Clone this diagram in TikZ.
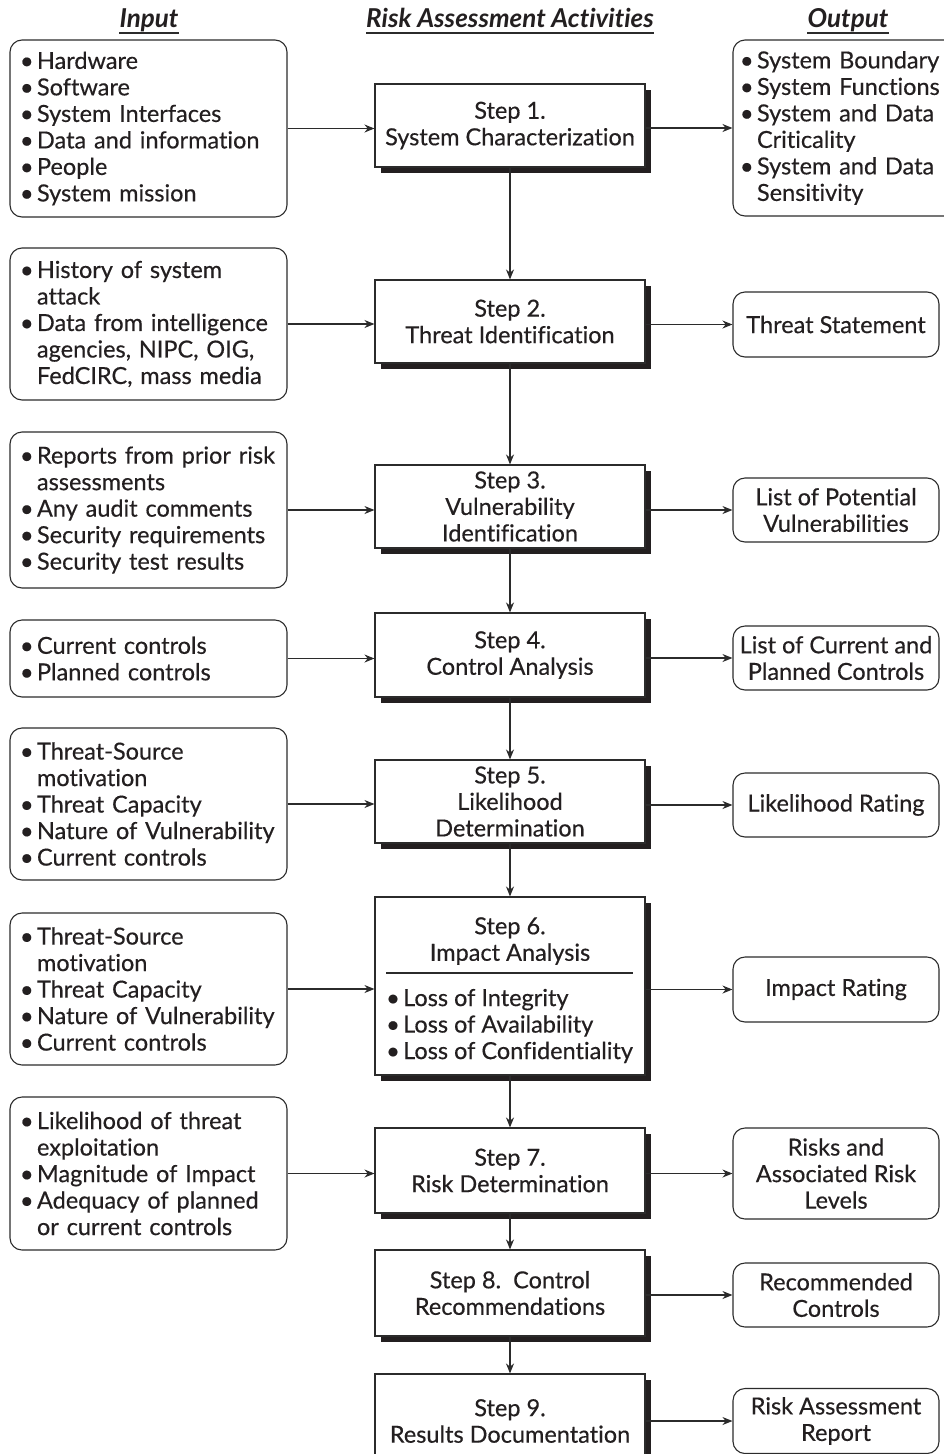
\documentclass[tikz,border=0pt]{standalone}
\usepackage{fontspec}
\setmainfont{Lato}[Ligatures=NoCommon, FakeBold=0.4]
\newfontfamily\hdfont{Lato}[Ligatures=NoCommon]
\usetikzlibrary{arrows.meta,shadows}
\definecolor{ink}{HTML}{231F20}
\definecolor{rulec}{HTML}{2B2B2B}
% bullet with a fixed-width slot, and the matching hanging indent
\newcommand\bl[1][17pt]{\makebox[#1][l]{•}}
\newcommand\hang[1][17pt]{\hspace*{#1}}

\begin{document}
\begin{tikzpicture}[x=1pt,y=-1pt,
  every node/.style={text=ink, font=\fontsize{23.5}{26.5}\selectfont},
  hd/.style={font=\hdfont\bfseries\itshape\fontsize{26}{30}\selectfont, inner sep=0pt, anchor=base},
  inbox/.style={draw=rulec, line width=1.1pt, rounded corners=12pt, text width=257pt,
                inner xsep=10pt, inner ysep=0pt, align=left},
  outbox/.style={draw=rulec, line width=1.1pt, rounded corners=12pt, minimum width=206pt,
                 inner sep=0pt, align=center},
  stepbox/.style={draw=rulec, line width=1.1pt, fill=white, minimum width=270pt,
                  inner sep=0pt, align=center,
                  drop shadow={shadow xshift=6pt, shadow yshift=-6pt, fill=ink, opacity=1}},
  flow/.style={draw=rulec, line width=1.1pt, -{Stealth[length=10pt,width=8pt]}}
]
\useasboundingbox (0,0) rectangle (944,1454);

% column headings
\node[hd] (hIn)  at (149,27) {Input};
\node[hd] (hAct) at (510,27) {Risk Assessment Activities};
\node[hd] (hOut) at (848,27) {Output};
\foreach \h in {hIn,hAct,hOut}
  \draw[rulec, line width=1.5pt] ([yshift=-6pt]\h.base west) -- ([yshift=-6pt]\h.base east);

% steps
\node[stepbox, minimum height=83pt] (s1) at (510,125.5) {Step 1.\\System Characterization};
\node[stepbox, minimum height=83pt] (s2) at (510,321.5) {Step 2.\\Threat Identification};
\node[stepbox, minimum height=83pt] (s3) at (510,506.5) {Step 3.\\Vulnerability\\Identification};
\node[stepbox, minimum height=84pt] (s4) at (510,655) {Step 4.\\Control Analysis};
\node[stepbox, minimum height=83pt] (s5) at (510,801.5) {Step 5.\\Likelihood\\Determination};
\node[stepbox, minimum height=178pt] (s6) at (510,986) {};
\node[stepbox, minimum height=85pt] (s7) at (510,1170.5) {Step 7.\\Risk Determination};
\node[stepbox, minimum height=86pt] (s8) at (510,1293) {Step 8.\ \ Control\\Recommendations};
\node[stepbox, minimum height=94pt] (s9) at (510,1421) {Step 9.\\Results Documentation};

% inside of step 6
\node[align=center, inner sep=0pt] (s6t) at (510,941) {Step 6.\\Impact Analysis};
\draw[rulec, line width=1.1pt] (386,973) -- (633,973);
\node[anchor=west, align=left, inner sep=0pt] (s6l) at (386,1026)
  {\bl Loss of Integrity\\\bl Loss of Availability\\\bl Loss of Confidentiality};

% inputs
\node[inbox, minimum height=177pt] (in1) at (148.5,128.5)
  {\bl Hardware\\\bl Software\\\bl System Interfaces\\\bl Data and information\\\bl People\\\bl System mission};
\node[inbox, minimum height=152pt] (in2) at (148.5,324)
  {\bl History of system\\\hang attack\\\bl Data from intelligence\\\hang agencies, NIPC, OIG,\\\hang FedCIRC, mass media};
\node[inbox, minimum height=156pt] (in3) at (148.5,510)
  {\bl Reports from prior risk\\\hang assessments\\\bl Any audit comments\\\bl Security requirements\\\bl Security test results};
\node[inbox, minimum height=77pt] (in4) at (148.5,658.5)
  {\bl Current controls\\\bl Planned controls};
\node[inbox, minimum height=152pt] (in5) at (148.5,804)
  {\bl Threat-Source\\\hang motivation\\\bl Threat Capacity\\\bl Nature of Vulnerability\\\bl Current controls};
\node[inbox, minimum height=152pt] (in6) at (148.5,989)
  {\bl Threat-Source\\\hang motivation\\\bl Threat Capacity\\\bl Nature of Vulnerability\\\bl Current controls};
\node[inbox, minimum height=153pt] (in7) at (148.5,1173.5)
  {\bl Likelihood of threat\\\hang exploitation\\\bl Magnitude of Impact\\\bl Adequacy of planned\\\hang or current controls};

% outputs
\node[draw=rulec, line width=1.1pt, rounded corners=12pt, minimum width=227pt, minimum height=176pt,
      text width=213pt, inner xsep=7pt, inner ysep=0pt, align=left] (o1) at (846.5,128)
  {\bl System Boundary\\\bl System Functions\\\bl System and Data\\\hang Criticality\\\bl System and Data\\\hang Sensitivity};
\node[outbox, minimum height=65pt] (o2) at (836,324.5) {Threat Statement};
\node[outbox, minimum height=64pt] (o3) at (836,510) {List of Potential\\Vulnerabilities};
\node[outbox, minimum height=64pt] (o4) at (836,658) {List of Current and\\Planned Controls};
\node[outbox, minimum height=64pt] (o5) at (836,805) {Likelihood Rating};
\node[outbox, minimum height=65pt] (o6) at (836,989.5) {Impact Rating};
\node[outbox, minimum height=91pt] (o7) at (836,1173.5) {Risks and\\Associated Risk\\Levels};
\node[outbox, minimum height=64pt] (o8) at (836,1295) {Recommended\\Controls};
\node[outbox, minimum height=65pt] (o9) at (836,1421) {Risk Assessment\\Report};

% flow between steps
\foreach \a/\b in {s1/s2,s2/s3,s3/s4,s4/s5,s5/s6,s6/s7,s7/s8,s8/s9}
  \draw[flow] (\a.south) -- (\b.north);

% inputs into steps
\foreach \i in {1,...,7}
  \draw[flow] (in\i.east) -- (in\i.east -| s\i.west);

% steps into outputs
\foreach \i in {1,...,9}
  \draw[flow] (o\i.west -| s\i.east) -- (o\i.west);
\end{tikzpicture}
\end{document}
